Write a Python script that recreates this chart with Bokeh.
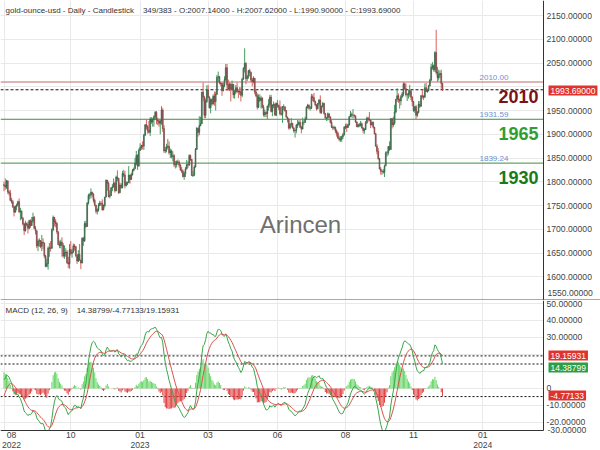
import numpy as np
from bokeh.plotting import figure
from bokeh.models import Range1d, FixedTicker, Span, Label, PrintfTickFormatter, ColumnDataSource
from bokeh.layouts import column
from bokeh.embed import file_html
from bokeh.resources import INLINE

# ---------------- data (daily XAU/USD, 10 Aug 2022 .. 11 Dec 2023) ----------------
first_open = 1794.0

close_2022 = [
    1792, 1789, 1802, 1779, 1776, 1761, 1758, 1747, 1736, 1748, 1751, 1758, 1737, 1738, 1723, 1711,
    1697, 1712, 1710, 1702, 1718, 1708, 1717, 1725, 1702, 1697, 1665, 1675, 1676, 1664, 1673, 1671, 1644, 1622, 1628, 1660, 1661, 1660,
    1699, 1725, 1716, 1712, 1695, 1668, 1666, 1673, 1666, 1644, 1650, 1652, 1630, 1627, 1657, 1649, 1652, 1665, 1663, 1645, 1633,
    1647, 1635, 1629, 1681, 1676, 1712, 1706, 1755, 1771, 1772, 1778, 1774, 1761, 1751, 1738, 1741, 1750, 1755, 1754, 1741, 1750, 1768,
    1803, 1797, 1769, 1771, 1787, 1789, 1797, 1781, 1810, 1807, 1777, 1793, 1788, 1817, 1814, 1792, 1798, 1798, 1814, 1805, 1815, 1824,
]
high_2022 = [
    1800, 1807, 1804, 1802, 1782, 1783, 1766, 1762, 1749, 1750, 1754, 1760, 1765, 1745, 1740, 1726,
    1714, 1718, 1714, 1716, 1720, 1721, 1726, 1735, 1728, 1707, 1697, 1679, 1681, 1677, 1688, 1681, 1672, 1646, 1638, 1664, 1671, 1675,
    1702, 1729, 1726, 1721, 1715, 1695, 1676, 1678, 1683, 1671, 1666, 1660, 1656, 1642, 1669, 1675, 1659, 1670, 1669, 1665, 1648,
    1656, 1669, 1636, 1683, 1684, 1717, 1718, 1757, 1775, 1776, 1786, 1779, 1776, 1765, 1751, 1744, 1755, 1760, 1759, 1763, 1752, 1768,
    1805, 1804, 1800, 1782, 1789, 1795, 1807, 1800, 1813, 1824, 1808, 1798, 1797, 1823, 1825, 1823, 1801, 1800, 1833, 1815, 1819, 1827,
]
low_2022 = [
    1780, 1783, 1785, 1774, 1771, 1759, 1754, 1745, 1727, 1735, 1740, 1748, 1734, 1719, 1721, 1708,
    1688, 1695, 1706, 1691, 1700, 1703, 1707, 1714, 1700, 1689, 1660, 1654, 1663, 1660, 1654, 1658, 1639, 1620, 1620, 1615, 1642, 1653,
    1659, 1696, 1706, 1704, 1690, 1666, 1660, 1660, 1642, 1640, 1638, 1642, 1627, 1618, 1617, 1645, 1640, 1650, 1655, 1641, 1627,
    1631, 1634, 1616, 1628, 1665, 1673, 1703, 1705, 1752, 1763, 1765, 1767, 1756, 1748, 1733, 1731, 1737, 1749, 1749, 1739, 1740, 1746,
    1767, 1781, 1767, 1765, 1770, 1780, 1788, 1777, 1780, 1801, 1774, 1776, 1785, 1786, 1810, 1786, 1790, 1793, 1797, 1796, 1804, 1813,
]

close_2023 = [
    1827, 1839, 1855, 1833, 1866, 1872, 1876, 1875, 1898, 1920, 1916, 1908, 1904, 1932, 1926, 1931, 1937, 1946, 1930, 1928, 1923, 1928,
    1951, 1912, 1865, 1867, 1873, 1875, 1861, 1865, 1853, 1855, 1836, 1836, 1842, 1841, 1835, 1825, 1822, 1811, 1817, 1827,
    1836, 1835, 1855, 1847, 1813, 1814, 1831, 1868, 1913, 1904, 1918, 1922, 1989, 1978, 1940, 1969, 1993, 1978, 1956, 1973, 1964, 1980, 1969,
    1984, 2020, 2021, 2008, 2007, 1992, 2003, 2015, 2040, 2004, 1995, 2005, 1995, 2005, 1983, 1989, 1998, 1990, 1989, 1990,
    1982, 2016, 2039, 2049, 2017, 2022, 2034, 2030, 2014, 2011, 2018, 1989, 1981, 1957, 1977, 1971, 1976, 1957, 1941, 1946, 1943, 1959, 1963,
    1978, 1948, 1961, 1963, 1940, 1965, 1961, 1957, 1943, 1942, 1958, 1958, 1950, 1936, 1932, 1913, 1921, 1923, 1913, 1907, 1908, 1919,
    1921, 1925, 1915, 1911, 1925, 1925, 1932, 1957, 1961, 1955, 1955, 1979, 1977, 1969, 1962, 1954, 1965, 1972, 1946, 1959, 1965,
    1944, 1934, 1934, 1943, 1936, 1925, 1915, 1913, 1914, 1907, 1902, 1892, 1889, 1889, 1895, 1899, 1915, 1917, 1914, 1920, 1937, 1942, 1940,
    1940, 1939, 1926, 1916, 1920, 1919, 1922, 1913, 1908, 1910, 1924, 1934, 1931, 1930, 1920, 1925, 1915, 1901, 1875, 1864, 1849,
    1827, 1822, 1822, 1820, 1833, 1861, 1861, 1874, 1868, 1933, 1920, 1923, 1947, 1974, 1981, 1973, 1970, 1979, 1985, 2006, 1996, 1983,
    1983, 1985, 1992, 1978, 1969, 1950, 1958, 1940, 1946, 1963, 1959, 1981, 1980, 1978, 1998, 1990, 1992, 2002, 2014, 2041, 2044, 2036,
    2072, 2030, 2019, 2025, 2028, 2007.14, 1993.69,
]
high_2023 = [
    1830, 1850, 1865, 1858, 1870, 1881, 1878, 1885, 1901, 1921, 1930, 1919, 1928, 1936, 1936, 1935, 1940, 1949, 1949, 1935, 1933, 1930,
    1959, 1955, 1919, 1874, 1880, 1890, 1885, 1870, 1868, 1864, 1858, 1844, 1845, 1847, 1845, 1837, 1831, 1826, 1822, 1831,
    1846, 1843, 1858, 1857, 1848, 1823, 1835, 1871, 1915, 1911, 1938, 1937, 1989, 2009, 1981, 1975, 2003, 2004, 1980, 1975, 1976, 1984, 1990,
    1990, 2025, 2032, 2023, 2010, 2008, 2009, 2022, 2048, 2048, 2015, 2009, 2008, 2013, 2006, 1994, 2004, 2009, 1993, 1999,
    1999, 2019, 2041, 2081, 2052, 2025, 2035, 2038, 2032, 2019, 2022, 2018, 1995, 1986, 1984, 1984, 1981, 1978, 1962, 1952, 1948, 1960, 1974,
    1983, 1983, 1963, 1969, 1965, 1967, 1972, 1962, 1971, 1959, 1959, 1963, 1958, 1951, 1937, 1934, 1923, 1934, 1924, 1916, 1910, 1922,
    1930, 1929, 1931, 1917, 1935, 1931, 1937, 1959, 1964, 1963, 1959, 1985, 1984, 1987, 1971, 1963, 1966, 1974, 1982, 1960, 1968,
    1966, 1945, 1936, 1946, 1944, 1938, 1930, 1918, 1918, 1916, 1910, 1905, 1897, 1896, 1897, 1903, 1917, 1922, 1923, 1922, 1938, 1949, 1946,
    1953, 1942, 1938, 1927, 1922, 1924, 1928, 1925, 1915, 1913, 1928, 1937, 1937, 1947, 1930, 1927, 1927, 1915, 1903, 1879, 1871,
    1850, 1831, 1825, 1827, 1836, 1864, 1865, 1875, 1885, 1933, 1933, 1937, 1962, 1974, 1997, 1986, 1975, 1983, 1989, 2009, 2009, 2007,
    1987, 1993, 2004, 1990, 1980, 1970, 1959, 1962, 1949, 1970, 1970, 1983, 1994, 1982, 2007, 2008, 1996, 2004, 2017, 2048, 2052, 2047,
    2075, 2120, 2042, 2036, 2034, 2036, 2007.62,
]
low_2023 = [
    1822, 1829, 1835, 1825, 1832, 1865, 1867, 1868, 1867, 1896, 1910, 1901, 1902, 1896, 1922, 1916, 1916, 1931, 1921, 1919, 1916, 1900,
    1920, 1905, 1861, 1860, 1862, 1869, 1857, 1850, 1849, 1843, 1831, 1828, 1830, 1836, 1830, 1823, 1818, 1809, 1804, 1810,
    1826, 1829, 1834, 1844, 1813, 1810, 1812, 1830, 1867, 1895, 1898, 1917, 1922, 1969, 1934, 1934, 1966, 1976, 1954, 1944, 1960, 1962, 1960,
    1950, 1983, 2010, 2005, 2001, 1981, 1990, 1999, 2012, 1992, 1992, 1991, 1969, 1992, 1976, 1975, 1985, 1987, 1976, 1983,
    1969, 1978, 2015, 2030, 2005, 2012, 2017, 2022, 2010, 2001, 2007, 1984, 1978, 1952, 1955, 1968, 1954, 1955, 1937, 1936, 1936, 1932, 1950,
    1956, 1946, 1938, 1955, 1940, 1938, 1956, 1951, 1940, 1939, 1924, 1950, 1947, 1935, 1925, 1910, 1910, 1915, 1912, 1903, 1893, 1902,
    1913, 1918, 1913, 1902, 1910, 1920, 1924, 1931, 1954, 1952, 1950, 1953, 1970, 1967, 1959, 1950, 1952, 1960, 1943, 1943, 1956,
    1941, 1931, 1928, 1929, 1934, 1923, 1913, 1909, 1910, 1902, 1895, 1890, 1885, 1884, 1884, 1890, 1897, 1911, 1905, 1914, 1918, 1936, 1935,
    1933, 1935, 1924, 1915, 1914, 1915, 1916, 1912, 1902, 1901, 1909, 1922, 1926, 1928, 1913, 1918, 1912, 1900, 1874, 1858, 1846,
    1826, 1815, 1815, 1817, 1810, 1836, 1853, 1856, 1865, 1867, 1912, 1915, 1920, 1944, 1968, 1966, 1954, 1961, 1976, 1980, 1993, 1979,
    1970, 1975, 1979, 1972, 1959, 1947, 1945, 1932, 1936, 1944, 1955, 1958, 1975, 1972, 1977, 1990, 1987, 1990, 2001, 2012, 2036, 2032,
    2031, 2026, 2010, 2013, 2018, 1996, 1990.90,
]

# closes before the visible window (Jun 1 .. Aug 9 2022), used only to seed the MACD averages
warmup_close = [
    1848, 1869, 1851, 1841, 1852, 1853, 1848, 1871, 1819, 1809, 1835, 1857, 1840, 1839, 1833, 1838, 1822, 1826,
    1823, 1820, 1817, 1807, 1811, 1808, 1764, 1739, 1740, 1742, 1733, 1725, 1735, 1709, 1708, 1709, 1711, 1696,
    1718, 1727, 1719, 1717, 1734, 1756, 1766, 1772, 1760, 1765, 1791, 1775, 1789, 1794,
]

price_ticks = [1550, 1600, 1650, 1700, 1750, 1800, 1850, 1900, 1950, 2000, 2050, 2100, 2150]
macd_ticks = [-30, -20, -10, 0, 10, 20, 30, 40, 50]
date_tick_pos = [6, 53, 108, 162, 217, 271, 325, 380]
date_tick_lab = ["08\n2022", "10", "01\n2023", "03", "06", "08", "11", "01\n2024"]
date_grid_pos = [0, 53, 108, 162, 217, 271, 325, 380]

level_red = 2010.00
level_g1 = 1931.59
level_g2 = 1839.24
last_price = 1993.69
macd_last, hist_last, signal_last = 14.38799, -4.77133, 19.15931
NB = "\u00a0"
title_text = ("gold-ounce-usd - Daily - Candlestick" + NB * 4 +
              "349/383 - O:2007.14000 - H:2007.62000 - L:1990.90000 - C:1993.69000")
macd_title = "MACD (12, 26, 9)" + NB * 4 + "14.38799/-4.77133/19.15931"
big_labels = ["2010", "1965", "1930"]

# ---------------- derived ----------------
close = np.array(close_2022 + close_2023, dtype=float)
high = np.array(high_2022 + high_2023, dtype=float)
low = np.array(low_2022 + low_2023, dtype=float)
n = len(close)
idx = np.arange(n)
opn = np.concatenate([[first_open], close[:-1]])
up = close >= opn
UPC, DNC = "#3f9d5f", "#d9605a"
cols = np.where(up, UPC, DNC)

def ema(x, span):
    a = 2.0 / (span + 1)
    out = np.empty(len(x))
    out[0] = x[0]
    for i in range(1, len(x)):
        out[i] = a * x[i] + (1 - a) * out[i - 1]
    return out

allc = np.array(warmup_close + list(close), dtype=float)
macd_all = ema(allc, 12) - ema(allc, 26)
sig_all = ema(macd_all, 9)
w = len(warmup_close)
macd = macd_all[w:]
signal = sig_all[w:]
hist = macd - signal
hcols = np.where(hist >= 0, "#5fd35f", "#e03b3b")

src = ColumnDataSource(dict(x=idx, h=high, l=low,
                            top=np.maximum(opn, close), bot=np.minimum(opn, close), col=cols))
msrc = ColumnDataSource(dict(x=idx, m=macd, s=signal, hist=hist, hcol=hcols))

FONT = "Liberation Sans"
GRID = "#e9e9e9"
AX = "#333333"
LBL = "#444444"
AXFS = "8.6px"

# x: bar index; frame spans the whole 600 px, price axis drawn at AXIS_X
X_START, X_END = -2.78, 473.4
AXIS_X = 428.2
xr = Range1d(X_START, X_END)

P_LO, P_HI = 1550, 2181.6
M_LO, M_HI = -36.5, 51.76
M_AXIS_Y = -24.7


def style_yaxis(ax):
    ax.axis_line_color = AX
    ax.major_tick_line_color = None
    ax.minor_tick_line_color = None
    ax.major_tick_out = 0
    ax.major_tick_in = 0
    ax.major_label_standoff = 3
    ax.major_label_text_font = FONT
    ax.major_label_text_font_size = AXFS
    ax.major_label_text_color = LBL
    ax.formatter = PrintfTickFormatter(format="%.5f")


# ---------------- main price panel ----------------
p = figure(width=600, height=300, x_range=xr, y_range=Range1d(P_LO, P_HI),
           output_backend="svg", toolbar_location=None, x_axis_location=None,
           y_axis_location="right", min_border=0)
p.outline_line_color = None
ya = p.yaxis[0]
ya.fixed_location = AXIS_X
ya.bounds = (P_LO, P_HI)
ya.ticker = FixedTicker(ticks=price_ticks)
style_yaxis(ya)
ya.major_label_overrides = {2000: "", 1550: ""}
p.ygrid.ticker = FixedTicker(ticks=price_ticks)
p.ygrid.grid_line_color = GRID
p.xgrid.ticker = FixedTicker(ticks=date_grid_pos)
p.xgrid.grid_line_color = GRID

for lv, lc, ld in ((level_red, "#c46a6a", "solid"), (level_g1, "#3c8f3c", "solid"),
                   (level_g2, "#3c8f3c", "solid"), (last_price, "#111111", "3 2")):
    p.add_layout(Span(location=lv, dimension="width", line_color=lc, line_width=1,
                      line_dash=ld, level="underlay"))

p.segment(x0="x", y0="l", x1="x", y1="h", color="col", line_width=1, source=src)
p.vbar(x="x", width=0.7, top="top", bottom="bot", fill_color="col", line_color="#444444",
       line_width=0.5, source=src)
# blank the axis strip to the right of the price axis
p.quad(left=AXIS_X, right=X_END + 5, bottom=P_LO - 50, top=P_HI + 50,
       fill_color="white", line_color=None)
p.add_layout(Span(location=P_LO, dimension="width", line_color="#555555", line_width=2))

for lv in (level_red, level_g1, level_g2):
    p.add_layout(Label(x=479, y=lv, x_units="canvas", text="%.2f" % lv, text_font=FONT,
                       text_font_size="8px", text_color="#6b8fd6", text_baseline="bottom",
                       y_offset=2))

for txt, cy, colr in zip(big_labels, (96, 133, 177), ("#7a1414", "#2f9e2f", "#187a18")):
    p.add_layout(Label(x=538, y=cy, x_units="canvas", y_units="canvas", text=txt,
                       text_font=FONT, text_font_size="18px", text_font_style="bold",
                       text_color=colr, text_align="right", text_baseline="middle"))

p.add_layout(Label(x=300, y=224, x_units="canvas", y_units="canvas", text="Arincen",
                   text_font=FONT, text_font_size="24px", text_color="#6f6f6f",
                   text_align="center", text_baseline="middle"))
p.add_layout(Label(x=5, y=10, x_units="canvas", y_units="canvas", text=title_text,
                   text_font=FONT, text_font_size="8px", text_color="#333333",
                   text_baseline="middle"))
p.add_layout(Label(x=548, y=90, x_units="canvas", y_units="canvas", text="%.5f" % last_price,
                   text_font=FONT, text_font_size="8.5px", text_color="white",
                   background_fill_color="#e0332e", text_baseline="middle", padding=2))
p.add_layout(Label(x=547, y=292, x_units="canvas", y_units="canvas", text="1550.00000",
                   text_font=FONT, text_font_size=AXFS, text_color=LBL,
                   text_baseline="middle"))

# ---------------- MACD panel ----------------
m = figure(width=600, height=150, x_range=xr, y_range=Range1d(M_LO, M_HI),
           output_backend="svg", toolbar_location=None, x_axis_location="below",
           y_axis_location="right", min_border=0)
m.outline_line_color = None
my = m.yaxis[0]
my.fixed_location = AXIS_X
my.bounds = (M_AXIS_Y, M_HI)
my.ticker = FixedTicker(ticks=macd_ticks)
style_yaxis(my)
my.major_label_overrides = {0: "0", 10: "", 20: "", -30: ""}
mx = m.xaxis[0]
mx.fixed_location = M_AXIS_Y
mx.bounds = (X_START, AXIS_X)
mx.ticker = FixedTicker(ticks=date_tick_pos)
mx.major_label_overrides = dict(zip(date_tick_pos, date_tick_lab))
mx.axis_line_color = AX
mx.major_tick_line_color = None
mx.minor_tick_line_color = None
mx.major_tick_out = 0
mx.major_tick_in = 0
mx.major_label_standoff = 0
mx.major_label_text_font = FONT
mx.major_label_text_font_size = "8.6px"
mx.major_label_text_line_height = 1.0
mx.major_label_text_color = LBL
m.ygrid.ticker = FixedTicker(ticks=macd_ticks)
m.ygrid.grid_line_color = GRID
m.xgrid.ticker = FixedTicker(ticks=date_grid_pos)
m.xgrid.grid_line_color = GRID

for v in (signal_last, macd_last, hist_last):
    m.add_layout(Span(location=v, dimension="width", line_color="#111111", line_width=1,
                      line_dash="2 2", level="underlay"))

m.vbar(x="x", width=0.75, top="hist", bottom=0, fill_color="hcol", line_color=None, source=msrc)
m.line("x", "m", color="#3aa548", line_width=1, source=msrc)
m.line("x", "s", color="#d9534f", line_width=1, source=msrc)
m.quad(left=AXIS_X, right=X_END + 5, bottom=M_LO - 20, top=M_HI + 20,
       fill_color="white", line_color=None)
m.quad(left=X_START - 5, right=X_END + 5, bottom=M_LO - 20, top=M_AXIS_Y,
       fill_color="white", line_color=None)

m.add_layout(Label(x=5, y=10, x_units="canvas", y_units="canvas", text=macd_title,
                   text_font=FONT, text_font_size="8px", text_color="#333333",
                   text_baseline="middle"))
for v, cy, colr in ((signal_last, 55, "#e0332e"), (macd_last, 67, "#2e9e44"), (hist_last, 95, "#e0332e")):
    m.add_layout(Label(x=548, y=cy, x_units="canvas", y_units="canvas", text="%.5f" % v,
                       text_font=FONT, text_font_size="8.5px", text_color="white",
                       background_fill_color=colr, text_baseline="middle", padding=2))
m.add_layout(Label(x=547, y=129, x_units="canvas", y_units="canvas", text="-30.00000",
                   text_font=FONT, text_font_size=AXFS, text_color=LBL,
                   text_baseline="middle"))

layout = column(p, m, spacing=0)
open("out.html", "w").write(file_html(layout, INLINE))
